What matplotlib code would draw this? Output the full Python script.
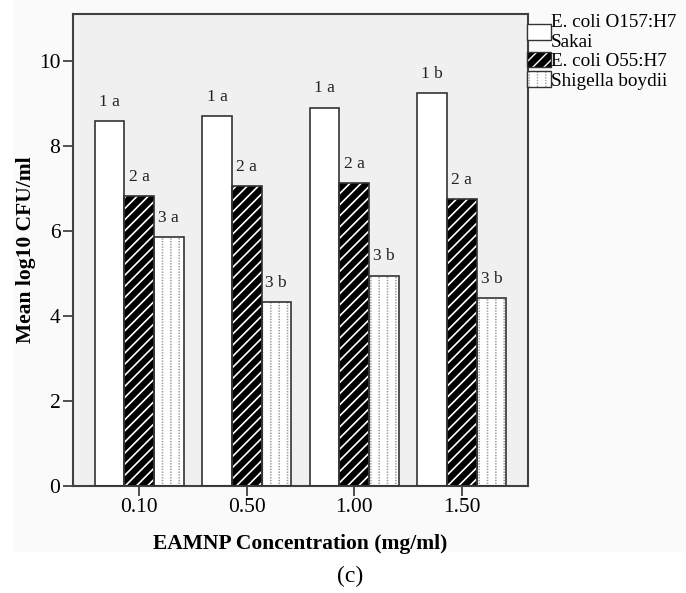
import numpy as np
import matplotlib
matplotlib.use("Agg")
import matplotlib.pyplot as plt
from matplotlib.patches import Rectangle, Patch

plt.rcParams['font.family'] = ['Liberation Serif', 'DejaVu Serif']

concentrations = ["0.10", "0.50", "1.00", "1.50"]
series_names = ["E. coli O157:H7\nSakai", "E. coli O55:H7", "Shigella boydii"]
o157 = [8.58, 8.70, 8.90, 9.24]
o55 = [6.81, 7.06, 7.13, 6.75]
shigella = [5.85, 4.33, 4.95, 4.41]
o157_labels = ["1 a", "1 a", "1 a", "1 b"]
o55_labels = ["2 a", "2 a", "2 a", "2 a"]
shigella_labels = ["3 a", "3 b", "3 b", "3 b"]

values = [o157, o55, shigella]
labels = [o157_labels, o55_labels, shigella_labels]
# layers of (face, hatch colour, hatch, hatch width) per series
styles = [[("white", "white", None, 1.0)],
          [("black", "white", "///", 1.2)],
          [("white", "#a0a0a0", "||", 1.2), ("none", "white", "------", 1.0)]]

edge = "#333333"


def make_patch(face, hcol, hatch, hlw, **kw):
    with plt.rc_context({'hatch.linewidth': hlw}):
        p = Patch(facecolor=face, edgecolor=hcol, hatch=hatch, linewidth=0, **kw)
    if hasattr(p, "set_hatch_linewidth"):
        p.set_hatch_linewidth(hlw)
    return p


fig = plt.figure(figsize=(6.86, 5.93), dpi=100)
fig.patches.append(Rectangle((13 / 686, 1 - 552 / 593), 1 - 13 / 686, 552 / 593,
                             transform=fig.transFigure, facecolor="#fafafa",
                             edgecolor="none", zorder=-10))
ax = fig.add_axes([73 / 686, 1 - 486 / 593, (528 - 73) / 686, (486 - 14) / 593])
ax.set_facecolor("#f0f0f0")

x = np.arange(len(concentrations))
w = 0.275
handles = []
for i, (vals, labs, layers) in enumerate(zip(values, labels, styles)):
    pos = x + (i - 1) * w
    for k, (face, hcol, hatch, hlw) in enumerate(layers):
        with plt.rc_context({'hatch.linewidth': hlw}):
            bars = ax.bar(pos, vals, w, color=face, edgecolor=hcol, hatch=hatch,
                          linewidth=0, zorder=2 + 0.1 * k)
        for b in bars:
            if hasattr(b, "set_hatch_linewidth"):
                b.set_hatch_linewidth(hlw)
    ax.bar(pos, vals, w, fill=False, edgecolor=edge, linewidth=1.2, zorder=3)
    for p, v, t in zip(pos, vals, labs):
        ax.annotate(t, (p, v), xytext=(0, 11), textcoords="offset points",
                    ha="center", va="baseline", fontsize=12.5, color="#222222")
    hs = [make_patch(*l) for l in layers]
    hs.append(Patch(facecolor="none", edgecolor=edge, linewidth=1.0))
    handles.append(tuple(hs))

ax.set_xlim(-0.615, 3.615)
ax.set_ylim(0, 11.1)
ax.set_yticks([0, 2, 4, 6, 8, 10])
ax.set_xticks(x)
ax.set_xticklabels(concentrations)
ax.tick_params(axis="both", direction="out", length=7, width=1.2, color="#333333",
               labelsize=15.5, pad=2)
for s in ax.spines.values():
    s.set_color("#404040")
    s.set_linewidth(1.5)

ax.set_ylabel("Mean log10 CFU/ml", fontsize=15.5, fontweight="bold", labelpad=2)
ax.set_xlabel("EAMNP Concentration (mg/ml)", fontsize=15.5, fontweight="bold", labelpad=12)

leg = fig.legend(handles, series_names, loc="upper left",
                 bbox_to_anchor=(527 / 686, 1 - 14 / 593), frameon=False,
                 fontsize=13.8, handlelength=1.25, handleheight=0.9,
                 handletextpad=0.0, labelspacing=0.05, borderaxespad=0,
                 borderpad=0)

fig.text(350 / 686, 1 - 576 / 593, "(c)", ha="center", va="center", fontsize=17)

fig.savefig("out.png", dpi=100)
